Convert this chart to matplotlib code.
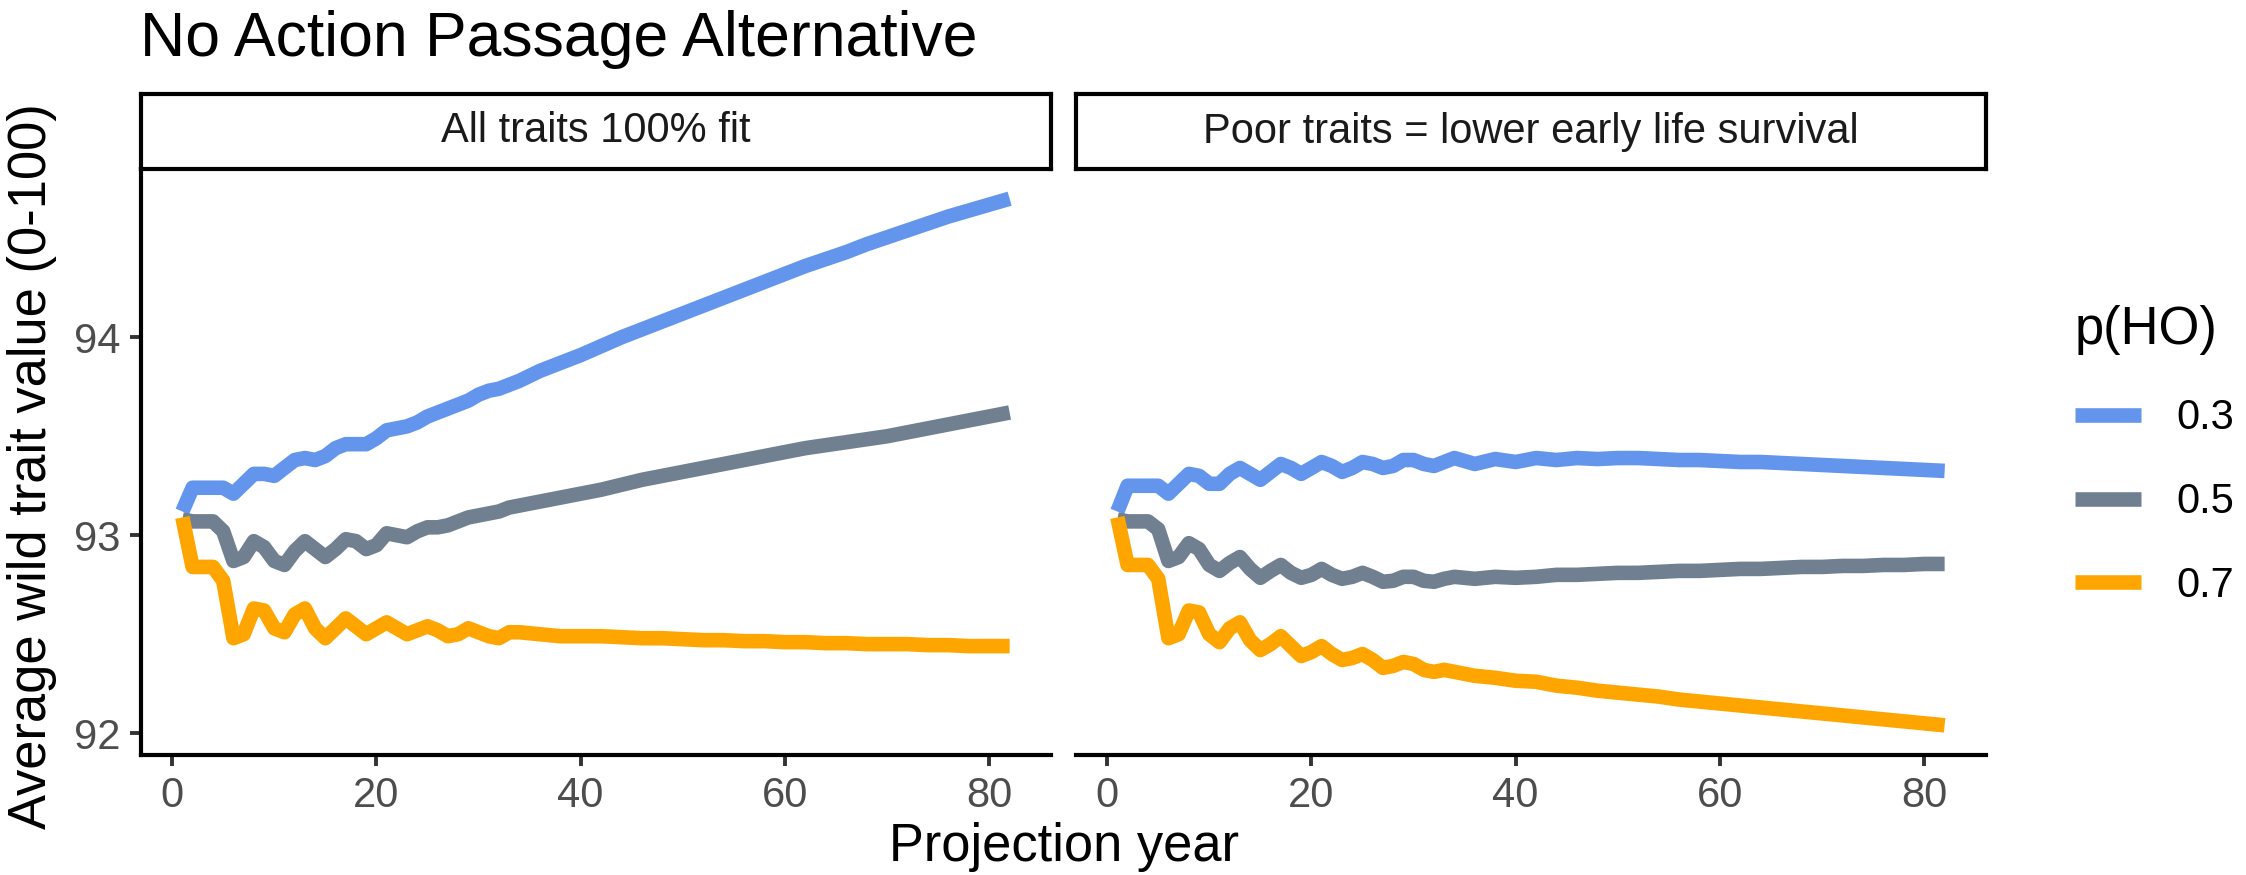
import matplotlib
matplotlib.use('Agg')
import matplotlib.pyplot as plt

plt.rcParams['font.family'] = ['Liberation Sans', 'DejaVu Sans']

# projection years (yearly early on, every 2nd year later)
years = list(range(1, 35)) + list(range(36, 83, 2))

groups = ['0.3', '0.5', '0.7']
colors = ['#6495ED', '#708090', '#FFA500']
panels = ['All traits 100% fit', 'Poor traits = lower early life survival']

fit_03 = [93.12, 93.24, 93.24, 93.24, 93.24, 93.21, 93.26, 93.31, 93.31, 93.30,
          93.34, 93.38, 93.39, 93.38, 93.40, 93.44, 93.46, 93.46, 93.46, 93.49,
          93.53, 93.54, 93.55, 93.57, 93.60, 93.62, 93.64, 93.66, 93.68, 93.71,
          93.73, 93.74, 93.76, 93.78,
          93.83, 93.87, 93.91, 93.955, 94.00, 94.04, 94.08, 94.12, 94.16, 94.20,
          94.24, 94.28, 94.32, 94.36, 94.395, 94.43, 94.47, 94.505, 94.54, 94.575,
          94.61, 94.64, 94.67, 94.70]
fit_05 = [93.08, 93.07, 93.07, 93.07, 93.02, 92.87, 92.89, 92.97, 92.94, 92.87,
          92.85, 92.92, 92.97, 92.93, 92.89, 92.93, 92.98, 92.97, 92.93, 92.95,
          93.01, 93.00, 92.99, 93.02, 93.04, 93.04, 93.05, 93.07, 93.09, 93.10,
          93.11, 93.12, 93.14, 93.15,
          93.17, 93.19, 93.21, 93.23, 93.255, 93.28, 93.30, 93.32, 93.34, 93.36,
          93.38, 93.40, 93.42, 93.44, 93.455, 93.47, 93.485, 93.50, 93.52, 93.54,
          93.56, 93.58, 93.60, 93.62]
fit_07 = [93.09, 92.84, 92.84, 92.84, 92.77, 92.48, 92.50, 92.63, 92.62, 92.53,
          92.51, 92.60, 92.63, 92.53, 92.48, 92.53, 92.58, 92.54, 92.50, 92.53,
          92.56, 92.53, 92.50, 92.52, 92.54, 92.52, 92.49, 92.50, 92.53, 92.51,
          92.49, 92.48, 92.51, 92.51,
          92.50, 92.49, 92.49, 92.49, 92.485, 92.48, 92.48, 92.475, 92.47, 92.47,
          92.465, 92.465, 92.46, 92.46, 92.455, 92.455, 92.45, 92.45, 92.45, 92.445,
          92.445, 92.44, 92.44, 92.44]

poor_03 = [93.12, 93.25, 93.25, 93.25, 93.25, 93.21, 93.26, 93.31, 93.30, 93.26,
           93.26, 93.31, 93.34, 93.31, 93.28, 93.32, 93.36, 93.34, 93.31, 93.34,
           93.37, 93.35, 93.32, 93.34, 93.37, 93.36, 93.34, 93.35, 93.38, 93.38,
           93.36, 93.35, 93.37, 93.39,
           93.36, 93.385, 93.37, 93.39, 93.38, 93.39, 93.385, 93.39, 93.39, 93.385,
           93.38, 93.38, 93.375, 93.37, 93.37, 93.365, 93.36, 93.355, 93.35, 93.345,
           93.34, 93.335, 93.33, 93.325]
poor_05 = [93.08, 93.07, 93.07, 93.07, 93.03, 92.87, 92.89, 92.96, 92.93, 92.85,
           92.82, 92.86, 92.89, 92.83, 92.785, 92.82, 92.85, 92.81, 92.785, 92.80,
           92.83, 92.80, 92.78, 92.79, 92.81, 92.79, 92.765, 92.77, 92.79, 92.79,
           92.77, 92.765, 92.78, 92.79,
           92.78, 92.79, 92.785, 92.79, 92.80, 92.80, 92.805, 92.81, 92.81, 92.815,
           92.82, 92.82, 92.825, 92.83, 92.83, 92.835, 92.84, 92.84, 92.845, 92.845,
           92.85, 92.85, 92.855, 92.855]
poor_07 = [93.09, 92.85, 92.85, 92.85, 92.78, 92.48, 92.50, 92.62, 92.61, 92.50,
           92.46, 92.53, 92.56, 92.47, 92.42, 92.45, 92.49, 92.44, 92.39, 92.41,
           92.44, 92.40, 92.37, 92.38, 92.40, 92.37, 92.33, 92.34, 92.36, 92.35,
           92.32, 92.31, 92.32, 92.31,
           92.29, 92.28, 92.265, 92.26, 92.24, 92.23, 92.215, 92.205, 92.195, 92.185,
           92.17, 92.16, 92.15, 92.14, 92.13, 92.12, 92.11, 92.10, 92.09, 92.08,
           92.07, 92.06, 92.05, 92.04]

series = [[fit_03, fit_05, fit_07], [poor_03, poor_05, poor_07]]

W, H = 2246, 875
fig = plt.figure(figsize=(W / 100, H / 100), dpi=100)

px = lambda v: v / W
py = lambda v: v / H

panel_left = [141, 1076]
panel_w = 910
panel_top, panel_bot = 169, 755
strip_top = 94

handles = []
for i, left in enumerate(panel_left):
    ax = fig.add_axes([px(left), py(H - panel_bot), px(panel_w), py(panel_bot - panel_top)])
    for vals, col, g in zip(series[i], colors, groups):
        ln, = ax.plot(years, vals, color=col, lw=10.5, solid_capstyle='butt',
                      solid_joinstyle='round', label=g)
        if i == 0:
            handles.append(ln)
    ax.set_xlim(-3.05, 86.05)
    ax.set_ylim(91.89, 94.85)
    ax.set_xticks([0, 20, 40, 60, 80])
    ax.set_yticks([92, 93, 94])
    for s in ['top', 'right']:
        ax.spines[s].set_visible(False)
    ax.spines['bottom'].set_linewidth(3)
    ax.spines['left'].set_linewidth(3)
    ax.tick_params(axis='both', length=8, width=2.8, color='#333333',
                   labelsize=30, labelcolor='#4D4D4D', pad=7)
    if i == 1:
        ax.spines['left'].set_visible(False)
        ax.tick_params(axis='y', left=False, labelleft=False)

    # facet strip
    sax = fig.add_axes([px(left), py(H - panel_top), px(panel_w), py(panel_top - strip_top)])
    sax.set_xticks([])
    sax.set_yticks([])
    for s in sax.spines.values():
        s.set_linewidth(3)
        s.set_color('black')
    sax.text(0.5, 0.5, panels[i], ha='center', va='center', fontsize=30,
             color='#1A1A1A', transform=sax.transAxes)

fig.text(px(140), py(H - 56), 'No Action Passage Alternative', fontsize=45,
         ha='left', va='baseline', color='black')
fig.text(px(1064), py(H - 861), 'Projection year', fontsize=37.8,
         ha='center', va='baseline', color='black')
fig.text(px(32), py(H - 466), 'Average wild trait value (0-100)', fontsize=37.8,
         ha='center', va='center', rotation=90, color='black')

leg = fig.legend(handles=handles, labels=groups, title='p(HO)', loc='upper left',
                 bbox_to_anchor=(px(2058), py(H - 288)), frameon=False,
                 fontsize=30, title_fontsize=37.8, handlelength=1.6,
                 handletextpad=0.85, labelspacing=1.05, borderaxespad=0)
leg._legend_box.align = 'left'

fig.savefig('out.png', dpi=100)
